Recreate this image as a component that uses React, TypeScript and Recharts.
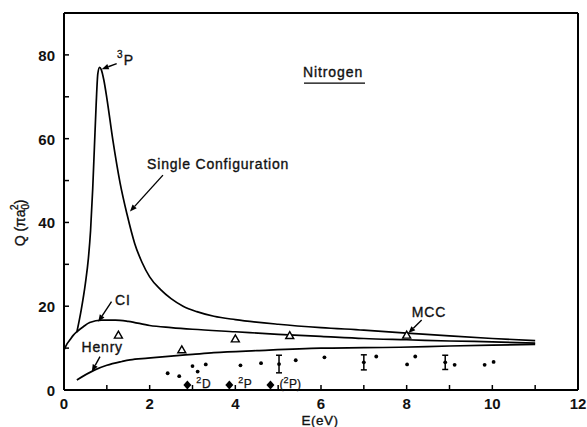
import React from "react";
import {
  ComposedChart,
  Line,
  Scatter,
  XAxis,
  YAxis,
  ReferenceLine,
  ReferenceDot,
  ErrorBar,
  LabelList,
} from "recharts";

// Single configuration curve, E in eV, Q in pi a0^2
const scE = [0.3, 0.4, 0.5, 0.57, 0.62, 0.67, 0.71, 0.75, 0.79, 0.83, 0.87, 0.93, 1.0, 1.14, 1.31, 1.47, 1.65, 1.82, 2.0, 2.25, 2.5, 2.78, 3.1, 3.5, 4.0, 5.0, 6.0, 7.0, 8.0, 9.0, 10.0, 11.0];
const scQ = [13.8, 19, 25.5, 31.5, 38, 48, 58, 68, 75.5, 77, 76.5, 74, 69.7, 59.7, 49.4, 42, 35, 30.5, 27, 24, 21.8, 20, 18.7, 17.6, 16.8, 15.7, 14.9, 14.3, 13.6, 12.9, 12.3, 11.8];

// CI curve
const ciE = [0, 0.07, 0.14, 0.22, 0.3, 0.45, 0.6, 0.88, 1.2, 1.5, 2.0, 2.5, 3.0, 4.0, 5.0, 6.0, 7.0, 8.0, 9.0, 10.0, 11.0];
const ciQ = [9.5, 11, 12, 13.1, 13.9, 15.1, 16.1, 16.7, 16.7, 16.4, 15.4, 14.9, 14.5, 13.9, 13.3, 12.8, 12.3, 12.0, 11.7, 11.5, 11.2];

// Henry curve
const henryE = [0.3, 0.72, 1.0, 1.35, 1.54, 1.96, 2.5, 3.0, 3.5, 4.5, 6.0, 7.0, 7.84, 9.0, 10.0, 11.0];
const henryQ = [2.4, 4.8, 5.9, 6.8, 7.2, 7.6, 8.1, 8.5, 8.9, 9.4, 10.0, 10.1, 10.2, 10.5, 10.7, 10.9];

// MCC (triangles)
const mccE = [1.27, 2.75, 4.0, 5.27, 8.0];
const mccQ = [13.1, 9.6, 12.2, 13.0, 13.1];

// experiment (dots)
const expE = [2.42, 2.69, 3.0, 3.12, 3.31, 4.12, 4.6, 5.41, 6.08, 7.29, 8.01, 8.2, 9.12, 9.82, 10.03];
const expQ = [4.0, 3.3, 5.7, 4.4, 6.1, 5.9, 6.4, 7.1, 7.8, 8.0, 6.1, 8.0, 6.0, 6.0, 6.7];

// experiment points with error bars
const errE = [5.02, 7.0, 8.9];
const errQ = [6.2, 6.6, 6.6];
const errSize = [2.1, 1.8, 1.7];

// resonances (diamonds)
const resE = [2.88, 3.86, 4.82];
const resQ = [1.2, 1.2, 1.2];
const resLabels = ["D", "P", "(P)"];

const xTicks = [0, 1, 2, 3, 4, 5, 6, 7, 8, 9, 10, 11, 12];
const yTicks = [0, 10, 20, 30, 40, 50, 60, 70, 80];

// annotations: [text, E, Q] and arrows [[E1,Q1],[E2,Q2]]
const notes: [string, number, number][] = [
  ["Single Configuration", 1.94, 52.8],
  ["CI", 1.19, 20.3],
  ["Henry", 0.41, 9.1],
  ["MCC", 8.12, 17.5],
];
const arrows = [
  [[1.23, 77.9], [0.88, 76.6]],
  [[2.31, 51.3], [1.54, 42.6]],
  [[1.11, 21.1], [0.8, 16.3]],
  [[0.84, 7.95], [0.65, 4.4]],
  [[8.35, 16.7], [8.04, 13.6]],
];

const pts = (es: number[], qs: number[]) => es.map((e, i) => ({ e, q: qs[i] }));

const scData = pts(scE, scQ);
const ciData = pts(ciE, ciQ);
const henryData = pts(henryE, henryQ);
const mccData = pts(mccE, mccQ);
const expData = pts(expE, expQ);
const errData = errE.map((e, i) => ({ e, q: errQ[i], err: errSize[i] }));
const resData = resE.map((e, i) => ({ e, q: resQ[i], name: resLabels[i] }));

const FONT = "'Liberation Sans', Arial, sans-serif";
const INK = "#111";

const XTick = (p: any) => {
  const { x, y, payload } = p;
  return (
    <g>
      <line x1={x} x2={x} y1={y} y2={y - 5} stroke="#000" strokeWidth={1.5} />
      {payload.value % 2 === 0 && (
        <text x={x} y={y + 19} textAnchor="middle" fontSize={15} fontWeight="bold" fontFamily={FONT} fill={INK}>
          {payload.value}
        </text>
      )}
    </g>
  );
};

const YTick = (p: any) => {
  const { x, y, payload } = p;
  return (
    <g>
      <line x1={x} x2={x + 5} y1={y} y2={y} stroke="#000" strokeWidth={1.5} />
      {payload.value % 20 === 0 && (
        <text x={x - 9} y={y + 6} textAnchor="end" fontSize={15} fontWeight="bold" fontFamily={FONT} fill={INK}>
          {payload.value}
        </text>
      )}
    </g>
  );
};

const Arrow = (p: any) => {
  const { x1, y1, x2, y2 } = p;
  const dx = x2 - x1;
  const dy = y2 - y1;
  const len = Math.hypot(dx, dy) || 1;
  const ux = dx / len;
  const uy = dy / len;
  const hl = 7;
  const hw = 2.8;
  const bx = x2 - ux * hl;
  const by = y2 - uy * hl;
  return (
    <g>
      <line x1={x1} y1={y1} x2={bx} y2={by} stroke="#000" strokeWidth={1.4} />
      <polygon
        points={`${x2},${y2} ${bx - uy * hw},${by + ux * hw} ${bx + uy * hw},${by - ux * hw}`}
        fill="#000"
      />
    </g>
  );
};

const triangle = (p: any) => {
  const { cx, cy } = p;
  return (
    <path
      d={`M${cx},${cy - 4} L${cx + 4},${cy + 3} L${cx - 4},${cy + 3} Z`}
      fill="#fff"
      stroke="#000"
      strokeWidth={1.4}
    />
  );
};

const dot = (p: any) => <circle cx={p.cx} cy={p.cy} r={1.9} fill="#000" />;

const diamond = (p: any) => {
  const { cx, cy } = p;
  return <path d={`M${cx},${cy - 4.5} L${cx + 4},${cy} L${cx},${cy + 4.5} L${cx - 4},${cy} Z`} fill="#000" />;
};

const txt = { fontFamily: FONT, fill: INK, stroke: INK, strokeWidth: 0.35 };

const noteText = (label: string) => (p: any) => (
  <text x={p.cx} y={p.cy} fontSize={14} letterSpacing={0.8} {...txt}>
    {label}
  </text>
);

export default function App() {
  return (
    <div style={{ position: "absolute", left: 0, top: 0, width: 587, height: 427, background: "#fff" }}>
      <ComposedChart width={587} height={427} margin={{ top: 13, right: 9, left: 24, bottom: 12 }}>
        <XAxis
          dataKey="e"
          type="number"
          domain={[0, 12]}
          ticks={xTicks}
          interval={0}
          height={25}
          tickSize={0}
          tickMargin={0}
          tickLine={false}
          tick={<XTick />}
          axisLine={{ stroke: "#000", strokeWidth: 2 }}
          label={(lp: any) => {
            const vb = lp.viewBox;
            return (
              <text x={vb.x + vb.width / 2 - 1} y={vb.y + 35} textAnchor="middle" fontSize={13.5} letterSpacing={0.5} {...txt}>
                E(eV)
              </text>
            );
          }}
        />
        <YAxis
          dataKey="q"
          type="number"
          domain={[0, 90]}
          ticks={yTicks}
          interval={0}
          width={40}
          tickSize={0}
          tickMargin={0}
          tickLine={false}
          tick={<YTick />}
          axisLine={{ stroke: "#000", strokeWidth: 2 }}
          label={(lp: any) => {
            const vb = lp.viewBox;
            const cx = vb.x - 4;
            const cy = vb.y + 210;
            return (
              <text
                x={cx}
                y={cy + 5}
                textAnchor="middle"
                transform={`rotate(-90, ${cx}, ${cy})`}
                fontSize={14}
                {...txt}
              >
                Q (πa
                <tspan fontSize={10} dy={4}>0</tspan>
                <tspan fontSize={10} dx={-6} dy={-11}>2</tspan>
                <tspan dy={7}>)</tspan>
              </text>
            );
          }}
        />
        <ReferenceLine y={90} stroke="#000" strokeWidth={2} />
        <ReferenceLine x={12} stroke="#000" strokeWidth={2} />

        <Line data={scData} dataKey="q" type="monotone" stroke="#000" strokeWidth={1.7} dot={false} isAnimationActive={false} />
        <Line data={ciData} dataKey="q" type="monotone" stroke="#000" strokeWidth={1.7} dot={false} isAnimationActive={false} />
        <Line data={henryData} dataKey="q" type="monotone" stroke="#000" strokeWidth={1.7} dot={false} isAnimationActive={false} />

        <Scatter data={mccData} dataKey="q" shape={triangle} isAnimationActive={false} />
        <Scatter data={expData} dataKey="q" shape={dot} isAnimationActive={false} />
        <Scatter data={errData} dataKey="q" shape={dot} isAnimationActive={false}>
          <ErrorBar dataKey="err" direction="y" width={3} stroke="#000" strokeWidth={1.5} />
        </Scatter>
        <Scatter data={resData} dataKey="q" shape={diamond} isAnimationActive={false}>
          <LabelList
            dataKey="name"
            content={(lp: any) => {
              const v = String(lp.value);
              const open = v.startsWith("(");
              const core = v.replace(/[()]/g, "");
              return (
                <text x={lp.x + lp.width / 2 + 9} y={lp.y + lp.height / 2 + 3} fontSize={12} {...txt} strokeWidth={0.25}>
                  {open ? "(" : ""}
                  <tspan fontSize={9} dy={-5}>2</tspan>
                  <tspan dy={5} dx={0.5}>{core}</tspan>
                  {open ? ")" : ""}
                </text>
              );
            }}
          />
        </Scatter>

        {arrows.map((a, i) => (
          <ReferenceLine
            key={"a" + i}
            segment={[{ x: a[0][0], y: a[0][1] }, { x: a[1][0], y: a[1][1] }]}
            shape={Arrow}
          />
        ))}
        {notes.map(([t, e, q]) => (
          <ReferenceDot key={t} x={e} y={q} r={0} shape={noteText(t)} />
        ))}
        <ReferenceDot
          x={1.24}
          y={77.6}
          r={0}
          shape={(p: any) => (
            <text x={p.cx} y={p.cy} fontSize={14} {...txt}>
              <tspan fontSize={10} dy={-7}>3</tspan>
              <tspan dy={7} dx={1}>P</tspan>
            </text>
          )}
        />
        <ReferenceDot
          x={5.58}
          y={74.7}
          r={0}
          shape={(p: any) => (
            <g>
              <text x={p.cx} y={p.cy} fontSize={14} letterSpacing={0.9} {...txt}>
                Nitrogen
              </text>
              <line x1={p.cx + 1} x2={p.cx + 62} y1={p.cy + 6} y2={p.cy + 6} stroke="#000" strokeWidth={1.3} />
            </g>
          )}
        />
      </ComposedChart>
    </div>
  );
}
